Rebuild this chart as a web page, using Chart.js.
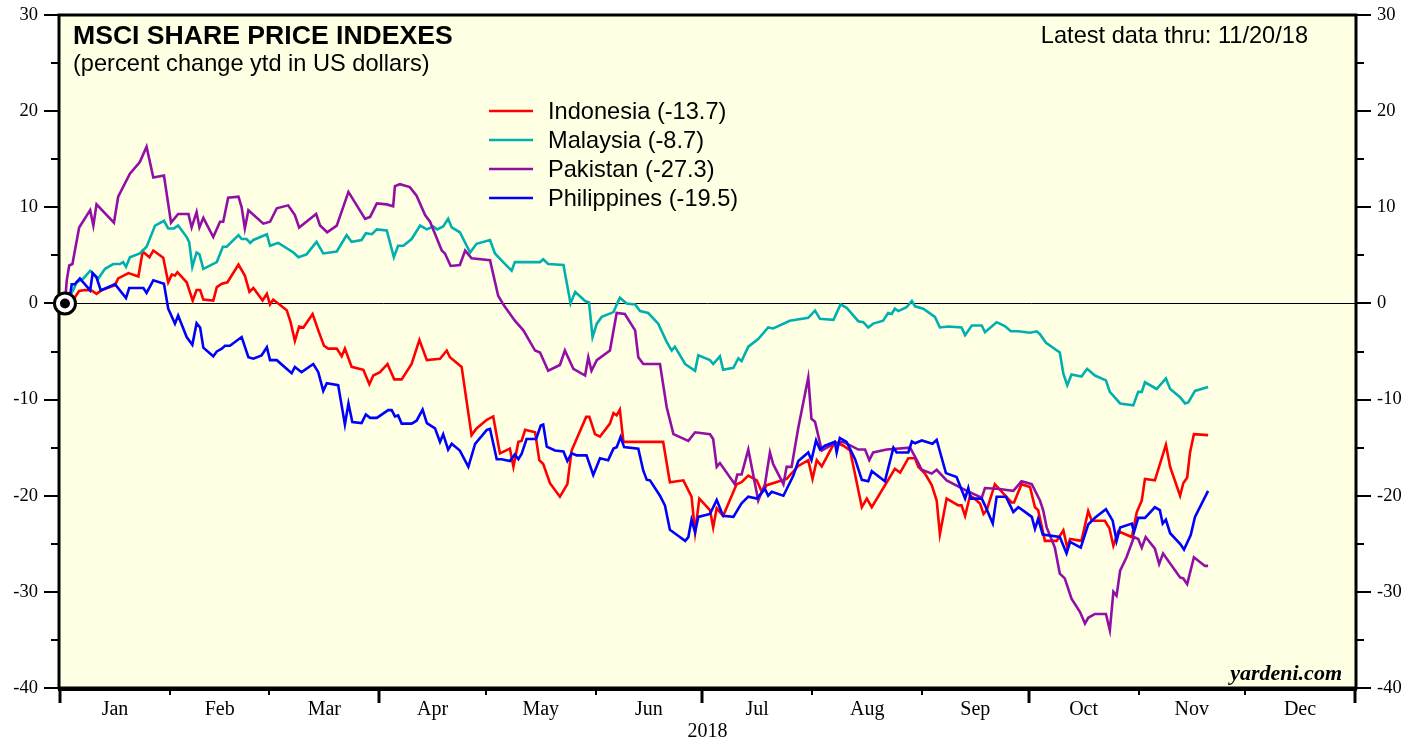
<!DOCTYPE html>
<html>
<head>
<meta charset="utf-8">
<title>MSCI Share Price Indexes</title>
<script src="https://cdn.jsdelivr.net/npm/chart.js@4.4.1/dist/chart.umd.min.js"></script>
<style>
  html, body { margin: 0; padding: 0; background: #fff; }
  #wrap { width: 1419px; height: 744px; }
</style>
</head>
<body>
<div id="wrap"><canvas id="chart" width="1419" height="744"></canvas></div>
<script>
// x axis is day of year 2018 (Jan 1 = 0)
const monthStarts = [0, 31, 59, 90, 120, 151, 181, 212, 243, 273, 304, 334, 365];
const monthLabels = ['Jan', 'Feb', 'Mar', 'Apr', 'May', 'Jun', 'Jul', 'Aug', 'Sep', 'Oct', 'Nov', 'Dec'];
const yearLabel = '2018';
const yMin = -40, yMax = 30, yStep = 10;

const seriesNames = ['Indonesia (-13.7)', 'Malaysia (-8.7)', 'Pakistan (-27.3)', 'Philippines (-19.5)'];
const seriesColors = ['#ff0000', '#00b0b0', '#920fa6', '#0000ff'];

// [day of year, percent change ytd]
const indonesia = [
  [1.4,0],[4.2,0.65],[5.4,1.3],[7.0,1.4],[8.9,1.35],[10.3,1.0],[11.8,1.4],[15.5,1.9],[16.4,2.6],[19.3,3.15],
  [22.1,2.8],[23.3,5.4],[25.2,4.8],[26.3,5.5],[29.1,4.75],[30.5,2.2],[31.5,3.0],[32.4,2.9],[33.1,3.25],[35.7,2.2],
  [37.4,0.3],[38.5,1.4],[39.5,1.4],[40.4,0.4],[43.2,0.3],[44.2,1.7],[45.6,2.05],[47.2,2.2],[50.3,4.05],[52.1,2.9],
  [53.4,1.2],[54.5,1.6],[57.1,0.3],[58.3,1.0],[59.2,-0.1],[60.1,0.4],[63.9,-0.7],[65.0,-1.95],[66.2,-3.9],[67.4,-2.4],
  [68.6,-2.5],[71.2,-1.1],[72.8,-2.8],[74.4,-4.4],[75.6,-4.7],[78.0,-4.7],[79.4,-5.5],[80.3,-4.7],[82.2,-6.6],[85.5,-6.9],
  [87.2,-8.4],[88.3,-7.5],[90.2,-7.15],[92.3,-6.3],[94.2,-7.9],[96.3,-7.9],[99.1,-6.3],[101.3,-3.8],[103.4,-5.9],[107.1,-5.75],
  [109.0,-4.9],[109.9,-5.6],[113.2,-6.6],[116.0,-13.7],[117.4,-13.0],[120.3,-12.1],[122.1,-11.75],[124.0,-15.6],[126.8,-15.1],[127.8,-17.0],
  [129.2,-14.4],[130.1,-14.3],[131.1,-13.15],[133.9,-13.4],[135.1,-16.3],[136.2,-16.7],[138.1,-18.7],[140.9,-20.1],[143.0,-18.8],[144.2,-15.3],
  [148.3,-11.8],[149.2,-11.8],[150.8,-13.6],[152.2,-13.85],[155.0,-12.5],[156.0,-11.4],[156.9,-11.65],[157.8,-11.05],[158.8,-14.4],[170.0,-14.4],
  [171.9,-18.6],[175.7,-18.4],[178.0,-20.1],[179.0,-23.8],[180.2,-20.3],[183.2,-21.5],[184.1,-23.3],[185.1,-21.3],[186.9,-22.1],[190.7,-18.8],
  [192.1,-18.6],[194.0,-17.9],[196.4,-18.4],[197.8,-19.6],[199.2,-18.9],[204.8,-18.25],[208.1,-16.9],[210.9,-16.3],[212.1,-18.25],[213.3,-16.3],
  [214.7,-16.95],[218.4,-14.4],[220.8,-14.8],[222.7,-15.3],[226.0,-21.2],[227.4,-20.3],[228.8,-21.2],[235.3,-17.2],[236.8,-17.6],[239.1,-16.1],
  [241.0,-16.1],[241.9,-17.0],[243.8,-17.7],[245.7,-18.9],[247.1,-20.5],[248.0,-24.0],[249.9,-20.3],[253.2,-21.0],[254.1,-21.0],[255.1,-22.1],
  [256.5,-20.0],[257.4,-20.2],[259.3,-20.8],[260.3,-21.9],[261.2,-21.5],[263.5,-18.8],[268.2,-20.7],[268.9,-20.7],[271.0,-18.8],[273.4,-19.1],
  [274.8,-21.2],[275.7,-21.5],[277.6,-24.7],[280.9,-24.7],[282.8,-23.6],[283.9,-25.4],[284.7,-24.5],[287.9,-24.7],[289.8,-21.6],[290.8,-22.6],
  [294.5,-22.6],[295.8,-23.4],[296.9,-25.2],[298.3,-23.7],[302.1,-24.3],[303.5,-21.7],[304.9,-20.5],[305.8,-18.25],[308.6,-18.4],[311.7,-14.7],
  [312.9,-17.0],[315.7,-20.0],[316.6,-18.7],[317.7,-18.1],[318.5,-15.5],[319.6,-13.6],[323.6,-13.7]
];

const malaysia = [
  [1.4,0],[3.7,1.35],[4.7,2.2],[6.6,2.6],[8.5,3.4],[9.4,3.1],[10.8,2.6],[12.7,3.6],[15.0,4.1],[16.9,4.1],
  [17.8,4.3],[18.6,3.8],[19.7,4.8],[22.5,5.2],[24.4,5.9],[26.8,8.1],[29.3,8.6],[30.5,7.8],[32.1,7.8],[33.3,8.1],
  [35.7,6.9],[36.4,6.4],[37.3,3.8],[38.5,5.3],[39.3,5.1],[40.4,3.6],[44.2,4.3],[45.9,5.9],[47.0,5.9],[50.3,7.1],
  [51.2,6.7],[52.6,6.7],[53.6,6.3],[54.5,6.6],[58.3,7.2],[59.2,6.0],[61.5,6.3],[65.8,5.3],[67.2,4.8],[69.5,5.1],
  [72.3,6.4],[74.2,5.2],[78.0,5.4],[80.8,7.1],[82.2,6.4],[85.0,6.6],[86.2,7.3],[87.9,7.2],[89.3,7.7],[92.1,7.6],
  [94.1,4.8],[95.3,6.0],[96.8,6.0],[99.1,6.7],[101.5,8.1],[103.4,7.7],[105.2,8.0],[106.3,7.7],[108.0,8.0],[109.4,8.8],
  [110.4,7.9],[112.7,7.4],[115.6,5.3],[117.4,6.2],[121.2,6.6],[122.6,5.2],[124.9,4.3],[127.3,3.4],[128.2,4.3],[135.3,4.3],
  [136.2,4.6],[137.6,4.1],[141.9,4.0],[143.9,0.0],[145.2,1.2],[148.0,0.25],[149.1,0.1],[150.1,-3.5],[151.3,-2.1],[152.7,-1.4],
  [156.0,-0.9],[157.8,0.6],[159.7,0.0],[162.1,-0.1],[163.5,-0.8],[165.8,-1.0],[168.6,-2.1],[171.0,-4.0],[172.4,-4.9],[173.3,-4.5],
  [176.2,-6.3],[179.0,-7.0],[179.9,-5.4],[183.2,-5.9],[184.1,-6.3],[186.0,-5.5],[186.9,-6.9],[189.8,-6.7],[191.2,-5.7],[192.1,-6.0],
  [194.0,-4.5],[196.8,-3.7],[199.6,-2.5],[201.0,-2.6],[205.7,-1.8],[210.9,-1.5],[212.8,-0.75],[214.2,-1.6],[218.0,-1.7],[220.0,-0.1],
  [221.7,-0.45],[225.0,-1.85],[226.4,-1.95],[227.8,-2.5],[229.2,-2.1],[232.0,-1.8],[233.4,-1.0],[234.4,-1.1],[235.3,-0.55],[236.3,-0.8],
  [238.6,-0.4],[240.1,0.25],[241.0,-0.3],[243.3,-0.55],[246.6,-1.4],[248.0,-2.5],[250.4,-2.4],[254.1,-2.5],[255.1,-3.3],[257.0,-2.3],
  [259.8,-2.3],[260.7,-3.0],[264.0,-1.95],[266.3,-2.35],[268.0,-2.9],[270.1,-2.9],[273.4,-3.05],[275.3,-2.9],[276.2,-3.2],[277.9,-4.1],
  [281.8,-5.1],[282.8,-7.3],[283.9,-8.5],[285.1,-7.4],[287.9,-7.6],[289.5,-6.8],[291.7,-7.5],[294.8,-8.0],[295.9,-9.2],[298.8,-10.4],
  [302.5,-10.6],[303.9,-9.2],[304.9,-9.2],[305.8,-8.2],[309.1,-8.9],[311.7,-7.8],[312.9,-8.9],[315.7,-9.75],[317.1,-10.4],[318.0,-10.3],
  [319.9,-9.1],[323.6,-8.7]
];

const pakistan = [
  [1.4,0],[1.9,2.4],[2.6,3.95],[3.5,4.1],[5.4,7.9],[8.5,9.7],[9.4,8.1],[10.3,10.3],[15.2,8.4],[16.4,11.1],
  [19.7,13.5],[22.5,14.7],[24.4,16.3],[26.3,13.1],[29.3,13.3],[31.3,8.4],[33.3,9.3],[36.2,9.3],[37.1,7.9],[38.5,9.5],
  [39.3,7.9],[40.4,8.9],[43.2,6.9],[45.1,8.5],[46.0,8.5],[47.4,11.0],[50.3,11.1],[51.2,10.0],[52.1,7.8],[53.1,9.7],
  [57.3,8.3],[59.2,8.5],[61.1,9.9],[64.3,10.2],[66.2,9.2],[67.4,7.9],[72.2,9.3],[73.3,8.1],[75.3,7.4],[78.0,8.1],
  [81.3,11.6],[86.0,8.8],[87.4,9.0],[89.3,10.4],[92.1,10.3],[93.9,10.1],[94.4,12.2],[95.8,12.4],[98.6,12.1],[100.5,11.2],
  [102.9,9.2],[104.3,8.5],[107.6,5.5],[108.5,5.2],[110.1,3.9],[112.7,4.0],[114.2,5.5],[116.0,4.7],[121.2,4.5],[123.5,0.8],
  [125.1,-0.2],[128.2,-1.8],[130.6,-2.8],[133.9,-4.9],[135.3,-5.1],[137.6,-7.0],[140.9,-6.4],[142.3,-4.9],[144.7,-6.8],[148.0,-7.5],
  [148.9,-5.6],[149.8,-7.0],[151.3,-5.9],[155.0,-4.9],[156.9,-1.0],[159.2,-1.1],[162.1,-2.8],[163.0,-5.6],[164.4,-6.3],[169.1,-6.3],
  [171.0,-10.8],[172.9,-13.6],[177.1,-14.3],[179.0,-13.4],[183.2,-13.6],[184.1,-14.1],[185.1,-17.0],[186.0,-16.6],[190.2,-18.8],[190.9,-17.8],
  [192.1,-17.8],[194.0,-15.2],[196.8,-20.5],[198.7,-18.8],[200.1,-15.5],[201.0,-16.7],[203.9,-18.8],[204.8,-17.0],[206.2,-17.0],[208.1,-12.9],
  [210.9,-7.7],[211.8,-12.0],[212.8,-12.3],[214.7,-15.3],[218.0,-14.6],[220.8,-14.4],[225.0,-15.2],[226.9,-15.2],[228.1,-16.3],[229.2,-15.5],
  [233.0,-15.2],[239.6,-15.0],[241.5,-16.3],[242.9,-17.3],[245.7,-17.7],[247.1,-17.3],[249.9,-18.4],[255.6,-19.5],[259.8,-20.2],[260.7,-19.2],
  [264.9,-19.3],[266.8,-19.4],[268.7,-19.5],[271.0,-18.5],[273.9,-18.8],[276.2,-20.5],[277.1,-21.5],[278.1,-23.3],[280.4,-25.4],[281.8,-28.1],
  [283.2,-28.6],[285.1,-30.7],[287.5,-32.1],[288.9,-33.3],[289.8,-32.7],[291.7,-32.3],[294.8,-32.3],[295.9,-34.0],[296.9,-30.0],[297.8,-30.4],
  [298.8,-27.8],[300.6,-26.4],[302.7,-24.3],[303.9,-24.5],[304.9,-25.4],[306.0,-24.3],[308.6,-25.5],[309.8,-27.1],[310.9,-26.0],[315.7,-28.5],
  [316.6,-28.6],[317.7,-29.2],[319.6,-26.4],[322.7,-27.3],[323.6,-27.3]
];

const philippines = [
  [1.4,0],[3.0,1.2],[3.3,2.0],[4.2,2.0],[5.6,2.6],[8.5,1.35],[9.2,3.15],[10.3,2.7],[11.5,1.35],[15.5,2.0],
  [18.6,0.55],[19.5,1.6],[23.5,1.6],[24.4,1.1],[26.3,2.4],[29.3,2.05],[30.5,-0.55],[32.4,-2.1],[33.3,-1.25],[35.7,-3.5],
  [37.3,-4.3],[38.5,-2.05],[39.5,-2.5],[40.4,-4.6],[43.2,-5.5],[44.2,-5.0],[45.6,-4.7],[46.5,-4.4],[47.9,-4.4],[51.2,-3.5],
  [53.1,-5.6],[54.5,-5.75],[56.8,-5.4],[58.3,-4.55],[59.2,-5.9],[61.1,-5.9],[65.3,-7.25],[66.2,-6.6],[68.1,-7.15],[71.4,-6.3],
  [72.8,-7.15],[74.2,-9.1],[75.2,-8.3],[78.4,-8.5],[80.3,-12.6],[81.3,-10.4],[82.4,-12.35],[85.0,-12.45],[86.2,-11.55],[87.4,-11.9],
  [89.3,-11.9],[92.5,-11.1],[93.5,-11.1],[94.4,-11.75],[95.3,-11.65],[96.3,-12.5],[99.1,-12.5],[100.5,-12.2],[102.2,-11.05],[103.4,-12.45],
  [105.7,-13.0],[107.1,-14.4],[108.0,-13.6],[109.4,-15.2],[110.4,-14.6],[112.7,-15.3],[115.1,-17.0],[117.0,-14.6],[120.3,-13.15],[121.2,-13.05],
  [123.1,-16.2],[124.5,-16.2],[126.8,-16.4],[128.2,-15.7],[129.2,-16.2],[130.1,-15.65],[131.5,-14.1],[134.2,-14.1],[135.5,-12.7],[136.2,-12.6],
  [137.2,-14.9],[139.5,-15.3],[141.9,-15.4],[143.0,-16.4],[144.2,-15.6],[145.6,-15.8],[148.4,-15.8],[150.3,-17.85],[152.2,-16.1],[154.5,-16.3],
  [156.0,-15.1],[156.9,-14.95],[158.0,-13.9],[159.0,-14.95],[163.0,-15.1],[164.4,-17.4],[165.4,-18.35],[166.3,-18.4],[169.1,-20.0],[170.5,-21.0],
  [171.9,-23.55],[174.7,-24.3],[176.2,-24.7],[177.1,-24.3],[178.0,-22.5],[179.0,-23.8],[179.9,-22.2],[183.2,-21.9],[185.1,-20.45],[186.9,-22.1],
  [189.8,-22.2],[192.1,-20.8],[194.0,-20.1],[196.4,-20.3],[198.7,-19.3],[199.6,-20.0],[200.6,-19.6],[203.9,-20.0],[206.7,-17.9],[208.1,-16.4],
  [210.9,-15.5],[211.8,-16.3],[213.1,-14.25],[214.2,-15.2],[215.6,-14.8],[218.4,-14.4],[218.9,-15.5],[219.8,-14.0],[221.7,-14.4],[224.1,-16.2],
  [226.0,-18.35],[227.8,-18.5],[228.8,-17.45],[232.5,-18.5],[234.9,-15.0],[235.8,-15.5],[239.1,-15.5],[240.1,-14.35],[241.0,-14.55],[242.9,-14.25],
  [245.9,-14.6],[247.1,-14.2],[249.7,-17.65],[252.7,-18.05],[255.1,-20.3],[256.0,-19.2],[256.7,-20.3],[259.8,-20.3],[260.7,-21.0],[262.9,-22.9],
  [264.0,-20.1],[266.6,-20.1],[267.8,-21.0],[268.7,-21.7],[270.1,-21.2],[271.3,-21.5],[273.9,-22.2],[274.8,-23.45],[275.7,-22.4],[277.0,-24.05],
  [281.8,-24.3],[283.7,-26.0],[284.7,-24.8],[287.7,-25.4],[289.8,-23.0],[291.7,-22.3],[294.8,-21.4],[296.7,-22.6],[297.8,-24.7],[298.8,-23.3],
  [302.1,-22.9],[302.7,-23.8],[303.9,-22.3],[305.8,-22.3],[308.6,-21.2],[310.0,-21.5],[310.8,-22.9],[311.7,-22.5],[312.9,-23.9],[315.7,-25.0],
  [316.8,-25.6],[318.7,-24.1],[319.9,-22.2],[323.6,-19.5]
];

const sans = "'Liberation Sans', Arial, sans-serif";
const serif = "'Liberation Serif', 'Times New Roman', serif";
const plotBg = '#ffffe3';

const monthMids = monthLabels.map((m, i) => (monthStarts[i] + monthStarts[i + 1]) / 2);

function toPoints(arr) {
  return arr.map(p => ({ x: p[0], y: p[1] }));
}

// background, frame, tick marks, marker and all the free text
const decor = {
  id: 'decor',
  beforeDraw(chart) {
    const { ctx, chartArea: a } = chart;
    ctx.save();
    ctx.fillStyle = '#fff';
    ctx.fillRect(0, 0, chart.width, chart.height);
    ctx.fillStyle = plotBg;
    ctx.fillRect(a.left, a.top, a.right - a.left, a.bottom - a.top);
    ctx.restore();
  },
  beforeDatasetsDraw(chart) {
    const { ctx, chartArea: a, scales } = chart;
    const y0 = Math.round(scales.y.getPixelForValue(0)) + 0.5;
    ctx.save();
    ctx.strokeStyle = '#000';
    ctx.lineWidth = 1;
    ctx.beginPath();
    ctx.moveTo(a.left, y0);
    ctx.lineTo(a.right, y0);
    ctx.stroke();
    ctx.restore();
  },
  afterDraw(chart) {
    const { ctx, chartArea: a, scales } = chart;
    const xs = scales.x, ys = scales.y;
    ctx.save();
    ctx.strokeStyle = '#000';

    // frame
    ctx.lineWidth = 3;
    ctx.strokeRect(a.left - 1, a.top, a.right - a.left + 2, a.bottom - a.top);
    ctx.lineWidth = 4;
    ctx.beginPath();
    ctx.moveTo(a.left - 2, a.bottom + 1);
    ctx.lineTo(a.right + 2, a.bottom + 1);
    ctx.stroke();

    // y ticks both sides
    ctx.lineWidth = 2;
    for (let v = yMin; v <= yMax; v += 5) {
      const py = Math.round(ys.getPixelForValue(v));
      const len = v % 10 === 0 ? 15 : 8;
      ctx.beginPath();
      ctx.moveTo(a.left - 1 - len, py);
      ctx.lineTo(a.left - 1, py);
      ctx.moveTo(a.right + 1, py);
      ctx.lineTo(a.right + 1 + len, py);
      ctx.stroke();
    }

    // month ticks, longer at quarters
    monthStarts.forEach((d, i) => {
      const px = Math.round(xs.getPixelForValue(d));
      const quarter = i % 3 === 0;
      ctx.lineWidth = quarter ? 3 : 2;
      ctx.beginPath();
      ctx.moveTo(px, a.bottom);
      ctx.lineTo(px, a.bottom + (quarter ? 15 : 7));
      ctx.stroke();
    });

    // start marker
    const mx = xs.getPixelForValue(indonesia[0][0]);
    const my = ys.getPixelForValue(0);
    ctx.fillStyle = '#fff';
    ctx.lineWidth = 3;
    ctx.beginPath();
    ctx.arc(mx, my, 10.5, 0, Math.PI * 2);
    ctx.fill();
    ctx.stroke();
    ctx.fillStyle = '#000';
    ctx.beginPath();
    ctx.arc(mx, my, 5, 0, Math.PI * 2);
    ctx.fill();

    // titles
    ctx.fillStyle = '#000';
    ctx.textBaseline = 'alphabetic';
    ctx.textAlign = 'left';
    ctx.font = 'bold 26.6px ' + sans;
    ctx.fillText('MSCI SHARE PRICE INDEXES', a.left + 13, 44);
    ctx.font = '23.6px ' + sans;
    ctx.fillText('(percent change ytd in US dollars)', a.left + 13, 71);
    ctx.textAlign = 'right';
    ctx.fillText('Latest data thru: 11/20/18', 1308, 43);

    // legend
    ctx.textAlign = 'left';
    seriesNames.forEach((name, i) => {
      const ly = 111 + i * 29;
      ctx.strokeStyle = seriesColors[i];
      ctx.lineWidth = 2.5;
      ctx.beginPath();
      ctx.moveTo(489, ly);
      ctx.lineTo(533, ly);
      ctx.stroke();
      ctx.fillStyle = '#000';
      ctx.fillText(name, 548, ly + 8);
    });

    // source
    ctx.textAlign = 'right';
    ctx.font = 'italic bold 22px ' + serif;
    ctx.fillText('yardeni.com', a.right - 13, a.bottom - 8);
    ctx.restore();
  }
};

// keep the plot box fixed: no automatic label overhang padding
function fixVertical(width) {
  return s => { s.width = width; s.paddingTop = 0; s.paddingBottom = 0; };
}

const yAxisBase = {
  type: 'linear',
  min: yMin,
  max: yMax,
  grid: { display: false, drawTicks: false },
  border: { display: false },
  ticks: { stepSize: yStep, color: '#000', padding: 22, font: { family: serif, size: 18.5 } }
};

new Chart(document.getElementById('chart'), {
  type: 'line',
  data: {
    datasets: [
      { label: seriesNames[0], data: toPoints(indonesia), borderColor: seriesColors[0], order: 4 },
      { label: seriesNames[1], data: toPoints(malaysia), borderColor: seriesColors[1], order: 3 },
      { label: seriesNames[2], data: toPoints(pakistan), borderColor: seriesColors[2], order: 2 },
      { label: seriesNames[3], data: toPoints(philippines), borderColor: seriesColors[3], order: 1 }
    ]
  },
  options: {
    responsive: false,
    animation: false,
    devicePixelRatio: 1,
    layout: { padding: { top: 15, left: 0, right: 0, bottom: 0 } },
    elements: {
      point: { radius: 0 },
      line: { borderWidth: 2.6, tension: 0, fill: false }
    },
    plugins: { legend: { display: false }, tooltip: { enabled: false } },
    scales: {
      x: {
        type: 'linear',
        min: 0,
        max: 365,
        grid: { display: false, drawTicks: false },
        border: { display: false },
        afterBuildTicks: s => { s.ticks = monthMids.map(v => ({ value: v })); },
        ticks: {
          autoSkip: false,
          maxRotation: 0,
          padding: 10,
          color: '#000',
          font: { family: serif, size: 20 },
          callback: (v, i) => monthLabels[i]
        },
        title: { display: true, text: yearLabel, color: '#000', font: { family: serif, size: 20 }, padding: { top: 0, bottom: 0 } },
        afterFit: s => { s.height = 56; s.paddingLeft = 0; s.paddingRight = 0; }
      },
      y: Object.assign({}, yAxisBase, { position: 'left', afterFit: fixVertical(60) }),
      y2: Object.assign({}, yAxisBase, { position: 'right', afterFit: fixVertical(64) })
    }
  },
  plugins: [decor]
});
</script>
</body>
</html>
